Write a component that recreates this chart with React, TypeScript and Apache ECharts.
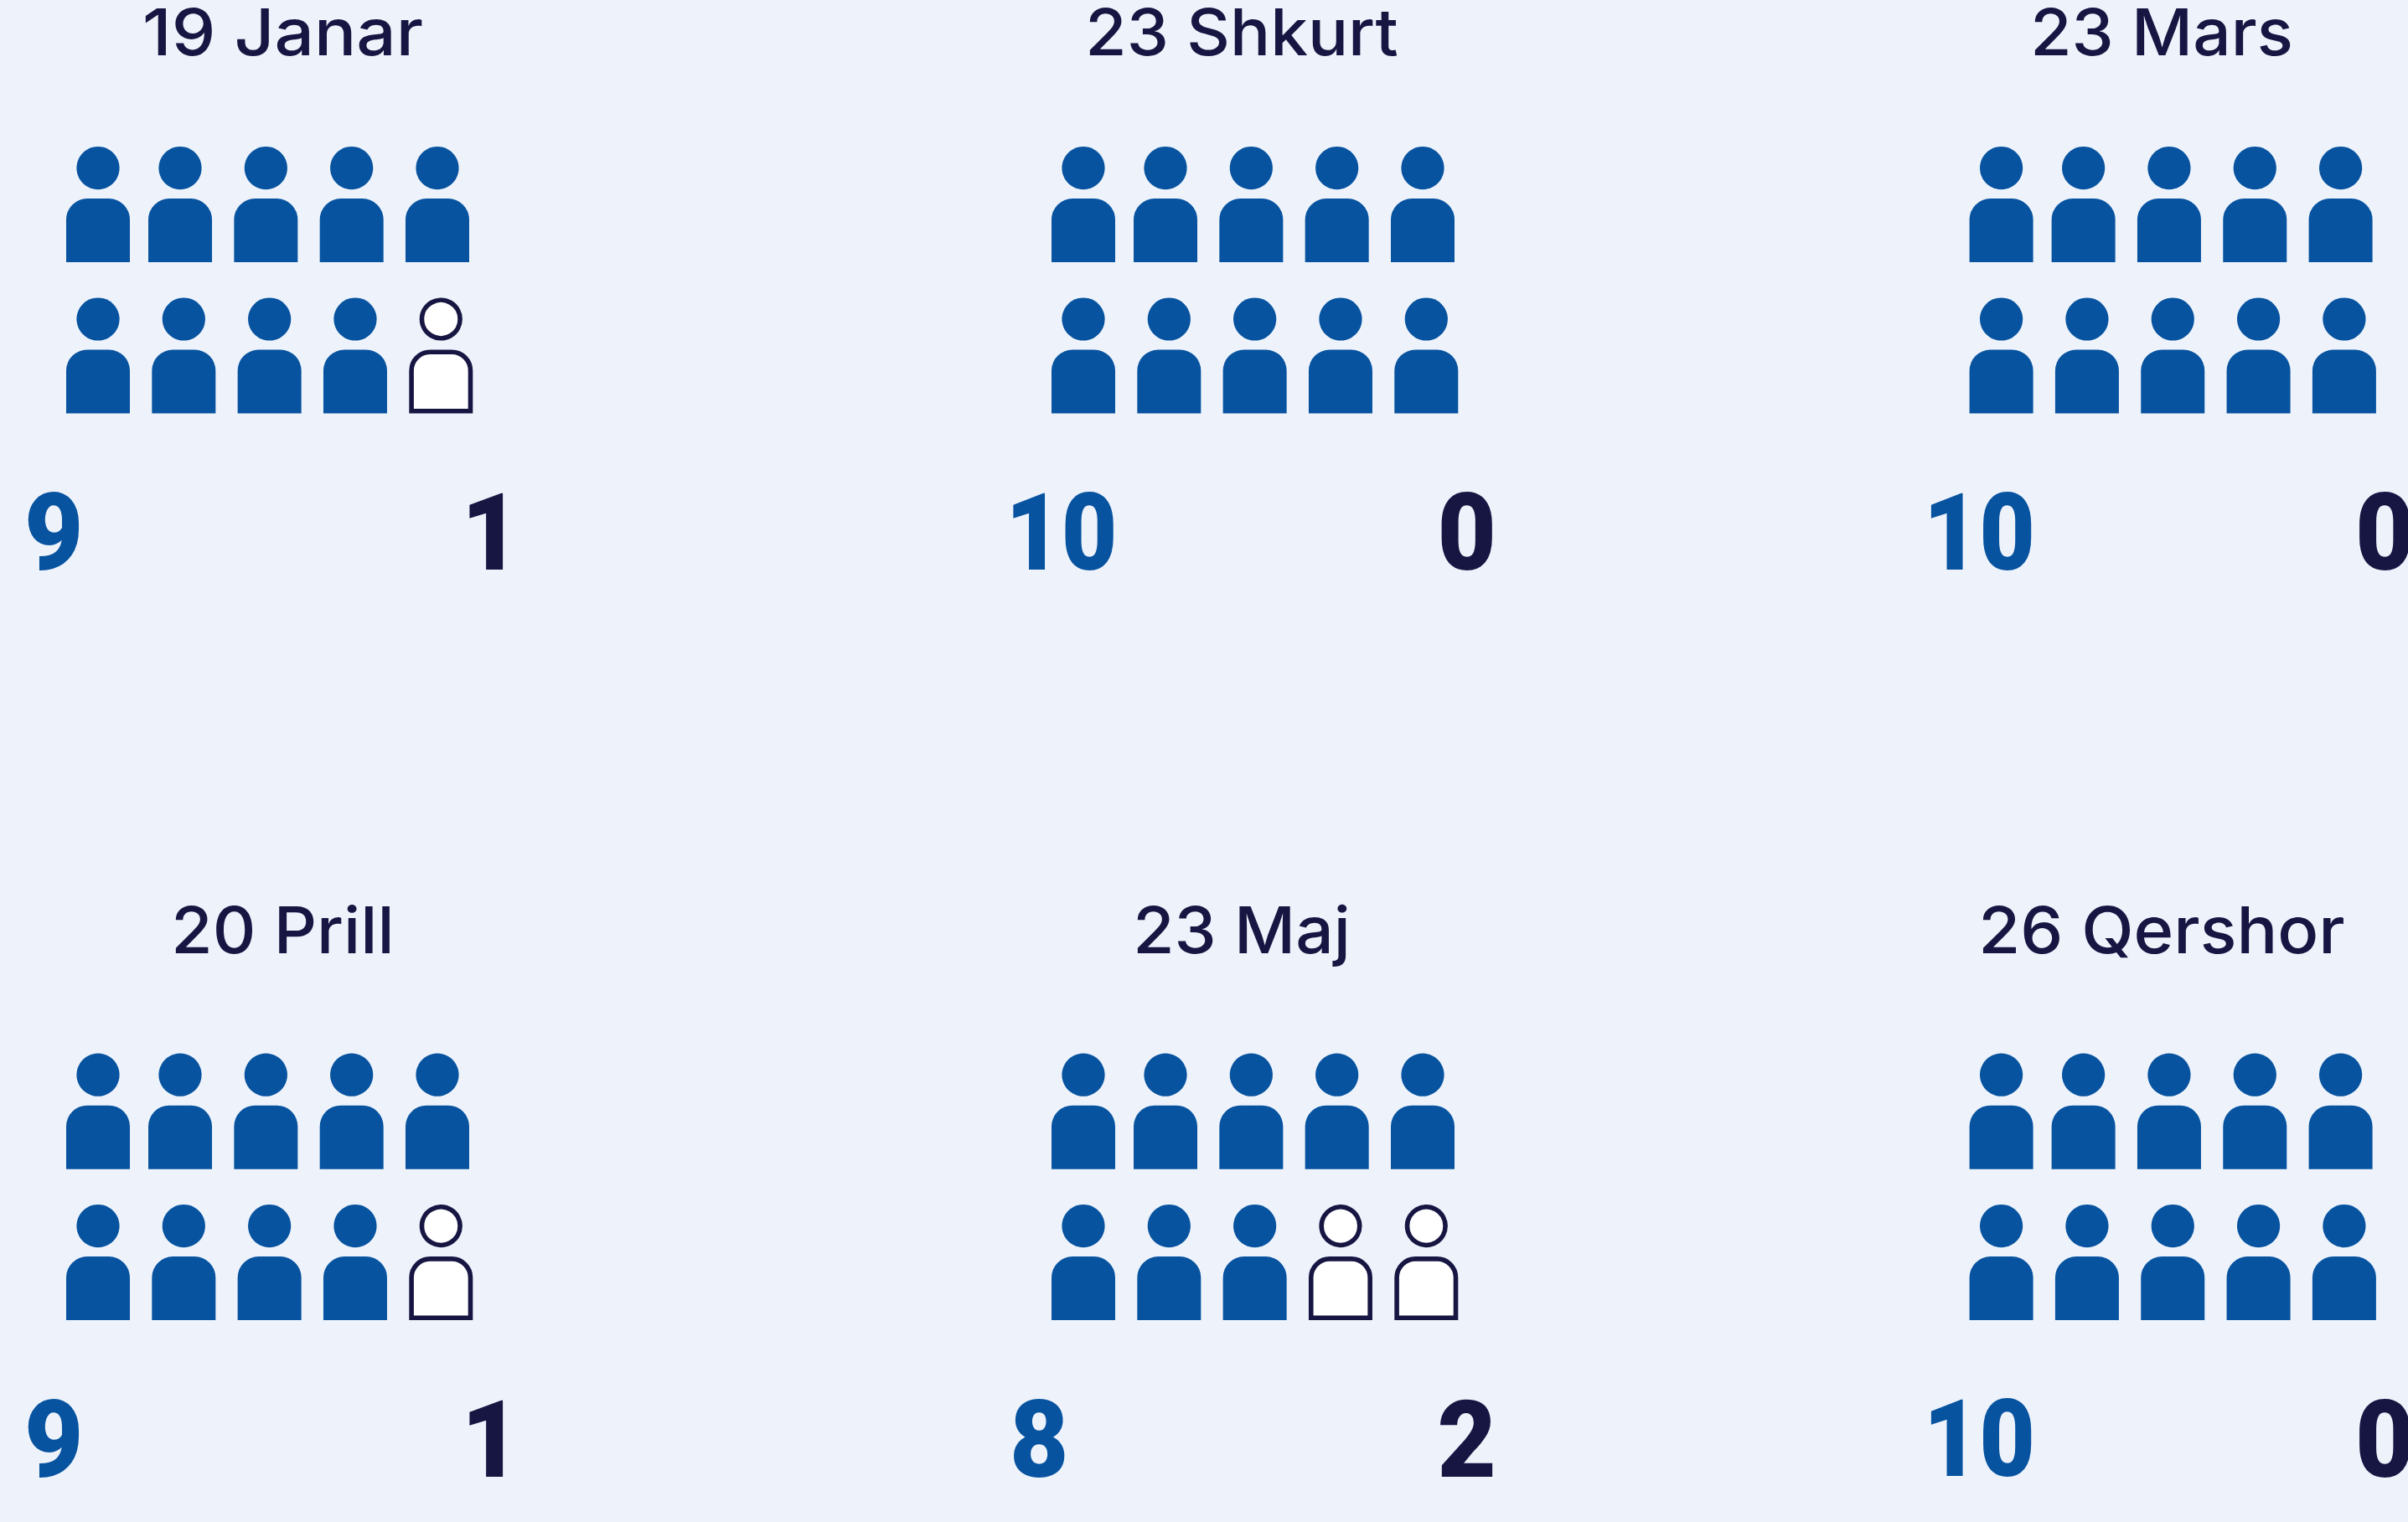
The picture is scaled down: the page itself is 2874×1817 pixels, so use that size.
import React, { useEffect, useRef } from "react";
import * as echarts from "echarts";

const dates = ["19 Janar", "23 Shkurt", "23 Mars", "20 Prill", "23 Maj", "26 Qershor"];
const forVotes = [9, 10, 10, 9, 8, 10];
const againstVotes = [1, 0, 0, 1, 2, 0];

const BG = "#EEF3FB";
const BLUE = "#0753A0";
const NAVY = "#171643";
const panelX = [0, 1176, 2271.6];
const panelY = [0, 1082.6];
const titleCx = [337.5, 1482, 2580];
const titleMid = [38, 1110];
const titleStretch = [1.085, 1.04, 1.04, 1.04, 1.04, 1.055];
const COLS = 5;

function App() {
  const ref = useRef<HTMLDivElement>(null);
  useEffect(() => {
    document.body.style.margin = "0";
    const chart = echarts.init(ref.current!, undefined, { renderer: "svg" });
    const grids: any[] = [], xAxis: any[] = [], yAxis: any[] = [], series: any[] = [], graphic: any[] = [];
    dates.forEach((d, i) => {
      const dx = panelX[i % 3];
      const dy = panelY[Math.floor(i / 3)];
      grids.push({ left: 117 + dx, top: 200.6 + dy, width: 409.3, height: 180.4, show: false });
      xAxis.push({ type: "value", gridIndex: i, min: 0, max: COLS - 1, show: false });
      yAxis.push({ type: "value", gridIndex: i, min: 0, max: 1, inverse: true, show: false });
      const seats = [
        ...Array.from({ length: forVotes[i] }, (_, k) => [k % COLS, Math.floor(k / COLS), 1]),
        ...Array.from({ length: againstVotes[i] }, (_, k) => {
          const s = forVotes[i] + k;
          return [s % COLS, Math.floor(s / COLS), 0];
        }),
      ];
      series.push({
        type: "custom",
        xAxisIndex: i,
        yAxisIndex: i,
        coordinateSystem: "cartesian2d",
        silent: true,
        data: seats,
        renderItem: (_: any, api: any) => {
          const col = api.value(0), row = api.value(1), filled = api.value(2) === 1;
          const p = api.coord([col, row]);
          const cx = p[0] - (row === 0 && col >= 1 ? 4.3 : 0);
          const cy = p[1];
          const inset = filled ? 0 : 2.8;
          const style = filled
            ? { fill: BLUE }
            : { fill: "#FFFFFF", stroke: NAVY, lineWidth: 5.6 };
          return {
            type: "group",
            children: [
              { type: "circle", shape: { cx, cy, r: 25.6 - inset }, style },
              {
                type: "rect",
                shape: {
                  x: cx - 38 + inset,
                  y: cy + 36.5 + inset,
                  width: 76 - 2 * inset,
                  height: 76 - 2 * inset,
                  r: [25 - inset, 25 - inset, 0, 0],
                },
                style,
              },
            ],
          };
        },
      });
      graphic.push({
        type: "text",
        x: titleCx[i % 3],
        y: titleMid[Math.floor(i / 3)],
        scaleX: titleStretch[i],
        style: {
          text: d,
          fill: NAVY,
          font: '500 77px "Inter"',
          lineHeight: 58,
          textAlign: "center",
          textVerticalAlign: "middle",
        },
      });
      const two = forVotes[i] >= 10;
      graphic.push({
        type: "text",
        x: (two ? 24 : 29) + dx,
        y: 700 + dy,
        scaleX: two ? 0.9 : 0.95,
        style: {
          text: String(forVotes[i]),
          fill: BLUE,
          font: '900 128px "Roboto"',
          textAlign: "left",
          textVerticalAlign: "bottom",
        },
      });
      graphic.push({
        type: "text",
        x: (againstVotes[i] === 1 ? 621 : 610) + dx,
        y: 700 + dy,
        scaleX: 0.95,
        style: {
          text: String(againstVotes[i]),
          fill: NAVY,
          font: '900 128px "Roboto"',
          textAlign: "right",
          textVerticalAlign: "bottom",
        },
      });
    });
    chart.setOption({
      animation: false,
      backgroundColor: BG,
      grid: grids,
      xAxis,
      yAxis,
      series,
      graphic: { elements: graphic },
    });
    return () => chart.dispose();
  }, []);
  return <div ref={ref} style={{ width: 2874, height: 1817 }} />;
}

export default App;
